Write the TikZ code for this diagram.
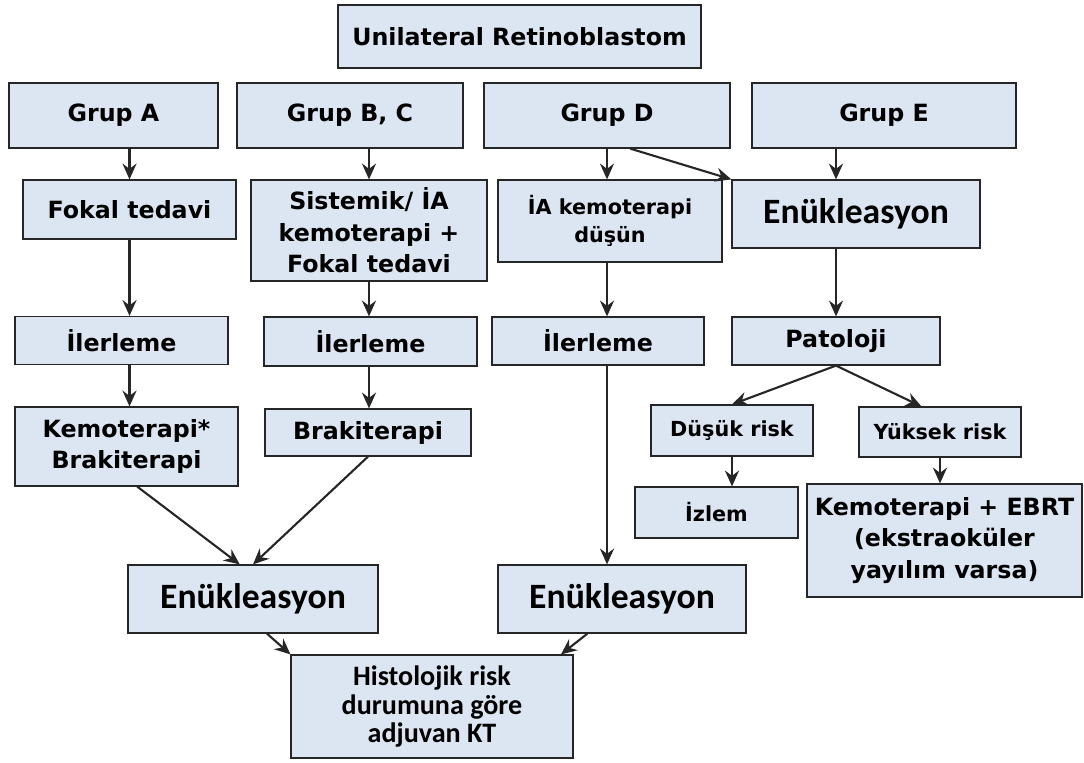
\documentclass[tikz,border=0pt]{standalone}
\usepackage{fontspec}
\setmainfont{DejaVu Sans}
\newfontfamily\calfont{Carlito}
\usetikzlibrary{arrows.meta}
\definecolor{kutumavi}{HTML}{DCE6F2}
\definecolor{cizgi}{HTML}{262626}
\tikzset{
	kutu/.style={draw=cizgi, fill=kutumavi, line width=0.7pt, align=center, inner sep=1pt,
		font=\fontsize{13.5}{18}\selectfont\bfseries},
	kucuk/.style={kutu, font=\fontsize{11.8}{16}\selectfont\bfseries},
	buyuk/.style={kutu, font=\calfont\fontsize{20.3}{22}\selectfont\bfseries},
	ok/.style={->, line width=1.2pt, draw=cizgi}
}
\begin{document}
\begin{tikzpicture}[>={Stealth[length=9pt,width=8pt,inset=3pt]}, x=0.02cm, y=-0.02cm]
		\useasboundingbox (0,0) rectangle (1084,762);
		% Заголовок
		\node[kutu, minimum width=7.26cm, minimum height=1.26cm] (title) at (519.5,36.5) {Unilateral Retinoblastom};
		% Группы
		\node[kutu, minimum width=4.18cm, minimum height=1.30cm] (grpA) at (113.5,115.5) {Grup A};
		\node[kutu, minimum width=4.52cm, minimum height=1.30cm] (grpBC) at (350,115.5) {Grup B, C};
		\node[kutu, minimum width=4.92cm, minimum height=1.30cm] (grpD) at (607,115.5) {Grup D};
		\node[kutu, minimum width=5.28cm, minimum height=1.30cm] (grpE) at (884,115.5) {Grup E};
		
		\node[kutu, minimum width=4.26cm, minimum height=1.18cm] (fokal) at (129.5,209.5) {Fokal tedavi};
		\node[kutu, minimum width=4.72cm, minimum height=2.02cm] (sistemik) at (369,230.5) {Sistemik/ İA\\kemoterapi +\\Fokal tedavi};
		\node[kucuk, minimum width=4.48cm, minimum height=1.64cm] (iaKemo) at (610,221) {İA kemoterapi\\düşün};
		\node[buyuk, minimum width=4.96cm, minimum height=1.36cm] (enukE) at (856,214) {Enükleasyon};
		
		\node[kutu, minimum width=4.26cm, minimum height=0.96cm] (ilerA) at (121.5,340.5) {İlerleme};
		\node[kutu, minimum width=4.26cm, minimum height=0.98cm] (ilerBC) at (370.5,341.5) {İlerleme};
		\node[kutu, minimum width=4.24cm, minimum height=0.96cm] (ilerD) at (598,341) {İlerleme};
		\node[kutu, minimum width=4.16cm, minimum height=0.96cm] (patoloji) at (836,341) {Patoloji};
		
		\node[kutu, minimum width=4.46cm, minimum height=1.58cm] (kemoBrak) at (126.5,446.5) {Kemoterapi*\\Brakiterapi};
		\node[kutu, minimum width=4.12cm, minimum height=0.94cm] (brak) at (368,432.5) {Brakiterapi};
		\node[kucuk, minimum width=3.24cm, minimum height=1.02cm] (dusuk) at (732,430.5) {Düşük risk};
		\node[kucuk, minimum width=3.24cm, minimum height=1.00cm] (yuksek) at (940,432) {Yüksek risk};
		\node[kucuk, minimum width=3.26cm, minimum height=1.02cm] (izlem) at (716.5,512.5) {İzlem};
		\node[kutu, minimum width=5.50cm, minimum height=2.26cm] (ebrt) at (944.5,540.5) {Kemoterapi + EBRT\\(ekstraoküler\\yayılım varsa)};
		
		\node[buyuk, minimum width=5.00cm, minimum height=1.36cm] (enukL) at (253,599) {Enükleasyon};
		\node[buyuk, minimum width=4.96cm, minimum height=1.36cm] (enukD) at (622,599) {Enükleasyon};
		\node[kutu, font=\calfont\fontsize{16}{16.5}\selectfont\bfseries, minimum width=5.64cm, minimum height=2.06cm] (histo) at (432,706.5) {Histolojik risk\\durumuna göre\\adjuvan KT};
		
		% Стрелки
		\draw[ok] (grpA.south -| fokal) -- (fokal.north);
		\draw[ok] (fokal.south) -- (fokal.south |- ilerA.north);
		\draw[ok] (ilerA.south -| fokal) -- (kemoBrak.north -| fokal);
		\draw[ok] (grpBC.south -| sistemik) -- (sistemik.north);
		\draw[ok] (sistemik.south) -- (sistemik.south |- ilerBC.north);
		\draw[ok] (ilerBC.south -| sistemik) -- (brak.north -| sistemik);
		\draw[ok] (grpD.south) -- (grpD.south |- iaKemo.north);
		\draw[ok] (iaKemo.south -| grpD) -- (ilerD.north -| grpD);
		\draw[ok] (ilerD.south -| grpD) -- (enukD.north -| grpD);
		\draw[ok] (grpD.-55) -- (enukE.north west);
		\draw[ok] (grpE.south -| patoloji) -- (enukE.north -| patoloji);
		\draw[ok] (enukE.south -| patoloji) -- (patoloji.north);
		\draw[ok] (patoloji.south) -- (dusuk.north);
		\draw[ok] (patoloji.south) -- (yuksek.126);
		\draw[ok] (dusuk.south) -- (dusuk.south |- izlem.north);
		\draw[ok] (yuksek.south) -- (yuksek.south |- ebrt.north);
		\draw[ok] (kemoBrak.-75) -- (enukL.111);
		\draw[ok] (brak.south) -- (enukL.north);
		\draw[ok] (enukL.-68) -- (histo.north west);
		\draw[ok] (enukD.-135) -- (histo.22);
		
\end{tikzpicture}
\end{document}
